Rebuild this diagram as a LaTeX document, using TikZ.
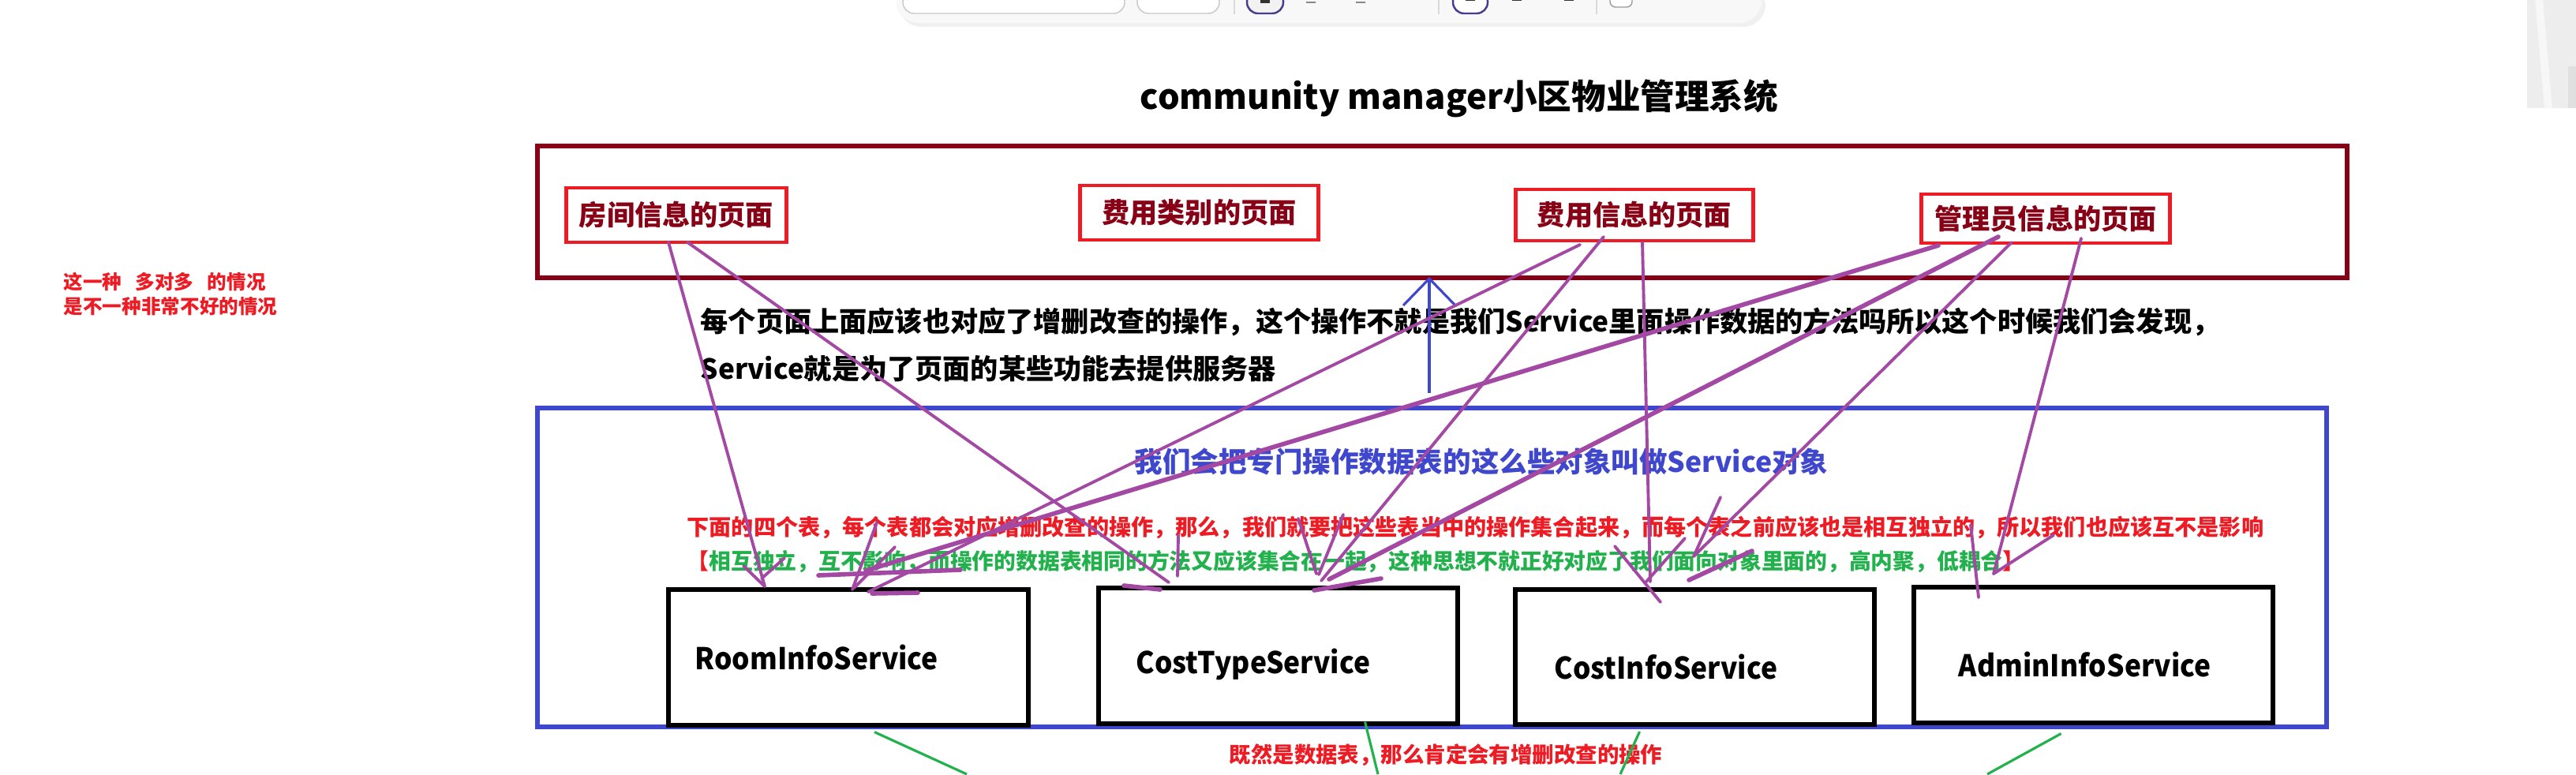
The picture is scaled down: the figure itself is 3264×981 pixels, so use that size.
\documentclass[tikz,border=0pt]{standalone}
\usepackage{fontspec}
\setmainfont{Noto Sans CJK SC}
\newfontfamily\narrowfont{Noto Sans CJK SC}[FakeStretch=0.93]
\usetikzlibrary{calc}
\definecolor{dred}{HTML}{880015}
\definecolor{pred}{HTML}{ED1C24}
\definecolor{pblue}{HTML}{3F48CC}
\definecolor{pgreen}{HTML}{22B14C}
\definecolor{ppurple}{HTML}{A349A4}
\definecolor{tbgray}{HTML}{F8F8F8}
\definecolor{tbsel}{HTML}{4B3B8F}
\begin{document}
\begin{tikzpicture}[x=0.01cm,y=-0.01cm,
  pagebox/.style={draw=pred,line width=1.4pt,inner sep=0pt,font=\bfseries\fontsize{10}{12}\selectfont,text=dred},
  svcbox/.style={draw=black,line width=1.7pt,inner sep=0pt,minimum width=4.55cm,minimum height=1.71cm},
  svclabel/.style={anchor=west,inner sep=0pt,font=\narrowfont\bfseries\fontsize{10.8}{13}\selectfont},
  link/.style={ppurple,line width=1.1pt,line cap=round},
  thicklink/.style={ppurple,line width=1.6pt,line cap=round},
  glink/.style={pgreen,line width=0.9pt},
  txt/.style={inner sep=0pt,anchor=west}
]
\useasboundingbox (0,0) rectangle (3264,981);
\fill[white] (0,0) rectangle (3264,981);

% toolbar (screenshot chrome)
\fill[black!6,rounded corners=8] (1139,-20) rectangle (2237,34);
\fill[tbgray,rounded corners=8] (1135,-20) rectangle (2232,29);
\draw[black!22,fill=white,rounded corners=4] (1144,-12) rectangle (1425,17);
\draw[black!22,fill=white,rounded corners=4] (1441,-12) rectangle (1545,17);
\draw[black!15] (1564,-5) -- (1564,18);
\draw[tbsel,line width=0.7pt,fill=black!5,rounded corners=4] (1580,-12) rectangle (1626,17);
\fill[black!80] (1597,-5) rectangle (1609,4);
\draw[black!70] (1655,3) -- (1667,3) (1718,3) -- (1730,3) (1776,-2) arc (180:360:6);
\draw[black!15] (1823,-5) -- (1823,18);
\draw[tbsel,line width=0.7pt,fill=white,rounded corners=4] (1841,-12) rectangle (1885,17);
\draw[black!80,line width=0.8pt] (1857,0) -- (1869,0) (1916,0) -- (1928,0) (1982,0) -- (1994,0);
\draw[black!15] (2023,-5) -- (2023,18);
\draw[black!40,fill=white,rounded corners=2] (2040,-8) rectangle (2068,9);

% thumbnail at the right edge
\fill[black!7] (3202,0) rectangle (3264,137);
\fill[black!3] (3212,0) -- (3222,0) -- (3234,137) -- (3224,137) -- cycle;
\fill[black!12] (3254,84) rectangle (3264,137);

% title
\node[inner sep=0pt,font=\bfseries\fontsize{12.4}{15}\selectfont] (title) at (1849,125) {community manager小区物业管理系统};

% left note
\node[txt,text=pred,font=\bfseries\fontsize{7.0}{9}\selectfont] (note1) at (80,357) {这一种\hspace{0.7em}多对多\hspace{0.7em}的情况};
\node[txt,text=pred,font=\bfseries\fontsize{7.0}{9}\selectfont] (note2) at (80,388) {是不一种非常不好的情况};

% page frame
\draw[dred,line width=1.7pt] (681,185) rectangle (2974,352);
\node[pagebox,minimum width=2.78cm,minimum height=0.69cm] (p1) at (857,272.5) {房间信息的页面};
\node[pagebox,minimum width=3.01cm,minimum height=0.69cm] (p2) at (1519.5,269.5) {费用类别的页面};
\node[pagebox,minimum width=3.00cm,minimum height=0.65cm] (p3) at (2071,272.5) {费用信息的页面};
\node[pagebox,minimum width=3.14cm,minimum height=0.62cm] (p4) at (2592,277) {管理员信息的页面};

% explanation text
\node[txt,font=\bfseries\fontsize{10}{12}\selectfont] (expl1) at (887,408) {每个页面上面应该也对应了增删改查的操作，这个操作不就是我们Service里面操作数据的方法吗所以这个时候我们会发现，};
\node[txt,font=\bfseries\fontsize{10}{12}\selectfont] (expl2) at (887,467) {Service就是为了页面的某些功能去提供服务器};

% service frame
\draw[pblue,line width=1.7pt] (681,517) rectangle (2948,921);
\coordinate (arrtail) at (1811,498);
\coordinate (arrtip) at (1811,353);
\draw[pblue,line width=0.9pt] (arrtail) -- (arrtip);
\draw[pblue,line width=0.9pt] ($(arrtip)+(-33,34)$) -- (arrtip) -- ($(arrtip)+(33,34)$);
\node[inner sep=0pt,text=pblue,font=\bfseries\fontsize{10.1}{12}\selectfont] (svctitle) at (1877,585) {我们会把专门操作数据表的这么些对象叫做Service对象};
\node[txt,text=pred,font=\bfseries\fontsize{8.0}{10}\selectfont] (redline) at (870,668) {下面的四个表，每个表都会对应增删改查的操作，那么，我们就要把这些表当中的操作集合起来，而每个表之前应该也是相互独立的，所以我们也应该互不是影响};
\node[txt,text=pgreen,font=\bfseries\fontsize{7.9}{10}\selectfont] (greenline) at (870,712) {\textcolor{pred}{【}相互独立，互不影响，而操作的数据表相同的方法又应该集合在一起，这种思想不就正好对应了我们面向对象里面的，高内聚，低耦合\textcolor{pred}{】}};

% service boxes
\node[svcbox] (s1) at (1075,833) {};
\node[svcbox] (s2) at (1619.5,831) {};
\node[svcbox] (s3) at (2147.5,832.5) {};
\node[svcbox] (s4) at (2652.5,830) {};
\node[svclabel] (l1) at (880,833) {RoomInfoService};
\node[svclabel] (l2) at (1439,842) {CostTypeService};
\node[svclabel] (l3) at (1969,845) {CostInfoService};
\node[svclabel] (l4) at (2481,842) {AdminInfoService};

% bottom note
\node[txt,text=pred,font=\bfseries\fontsize{7.8}{9}\selectfont] (bottomnote) at (1557,957) {既然是数据表，那么肯定会有增删改查的操作};

% purple connectors (hand drawn)
\coordinate (a0) at (847,307);  \coordinate (a1) at (969,743);
\coordinate (b0) at (871,307);  \coordinate (b1) at (1481,738);
\coordinate (c0) at (2002,310); \coordinate (c1) at (1100,750);
\coordinate (d0) at (2032,300); \coordinate (d1) at (1674,736);
\coordinate (e0) at (2456,311); \coordinate (e1) at (1097,723);
\coordinate (f0) at (2532,300); \coordinate (f1) at (1684,734);
\coordinate (g0) at (2549,307); \coordinate (g1) at (2146,705);
\coordinate (h0) at (2081,307); \coordinate (h1) at (2091,737);
\coordinate (i0) at (2637,302); \coordinate (i1) at (2526,727);
\draw[link] (a0) -- (a1);
\draw[link] (b0) -- (b1);
\draw[link] (c0) -- (c1);
\draw[link] (d0) -- (d1);
\draw[thicklink] (e0) -- (e1);
\draw[thicklink] (f0) -- (f1);
\draw[link] (g0) -- (g1);
\draw[link] (h0) -- (h1);
\draw[link] (i0) -- (i1);
% hand drawn arrow strokes
\draw[link] (942,717) -- (a1) (994,707) -- (965,733);
\draw[thicklink] (1424,742) -- (1470,747);
\draw[link] (1493,678) -- (1492,730);
\draw[thicklink] (1105,752) -- (1163,751);
\draw[link] (1645,657) -- (1668,727) (1702,652) -- (1671,728);
\draw[thicklink] (1037,729) -- (1217,722);
\draw[link] (1111,662) -- (1080,747) (1134,693) -- (1082,745);
\draw[thicklink] (1750,733) -- (1665,748);
\draw[link] (2180,630) -- (2146,705);
\draw[thicklink] (2220,698) -- (2140,735);
\draw[link] (2046,692) -- (2104,763) (2135,682) -- (2086,737);
\draw[link] (2602,678) -- (i1) (2497,665) -- (2507,757);

% green connectors leaving the picture
\coordinate (gx1) at (1225,981); \coordinate (gx2) at (1746,981);
\coordinate (gx3) at (2053,981); \coordinate (gx4) at (2518,981);
\draw[glink] ($(s1.south)+(33,6)$) -- (gx1);
\draw[glink] ($(s2.south)+(110,-5)$) -- (gx2);
\draw[glink] ($(s3.south)+(-70,6)$) -- (gx3);
\draw[glink] ($(s4.south)+(-41,11)$) -- (gx4);
\end{tikzpicture}
\end{document}
